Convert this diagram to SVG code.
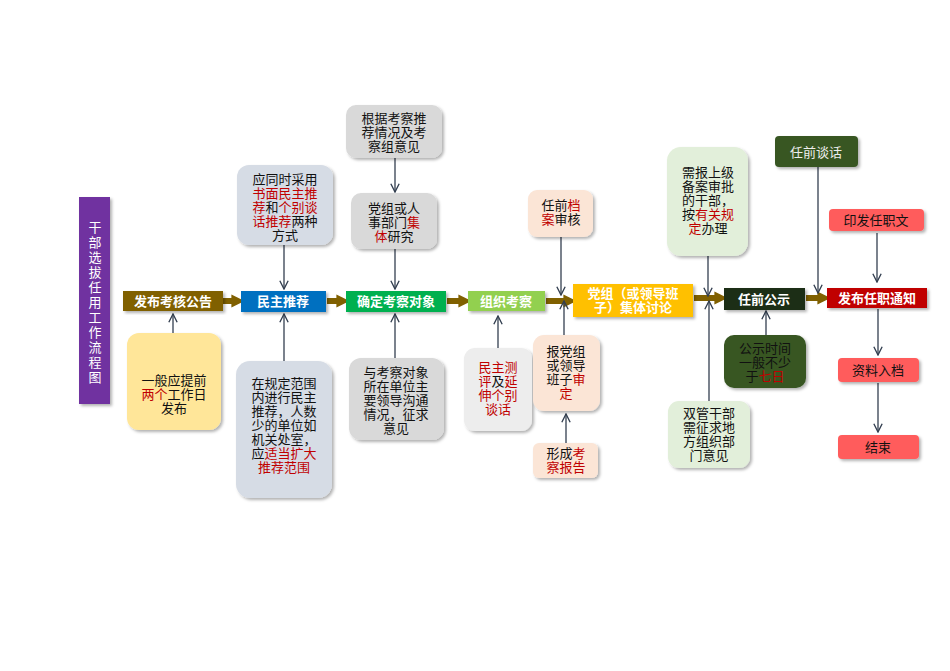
<svg xmlns="http://www.w3.org/2000/svg" width="950" height="671" viewBox="0 0 950 671">
<defs>
<filter id="sh" x="-20%" y="-20%" width="140%" height="140%"><feDropShadow dx="2" dy="2" stdDeviation="1.5" flood-color="#000" flood-opacity="0.3"/></filter>
<marker id="a" viewBox="0 0 10 10" refX="9" refY="5" markerWidth="8" markerHeight="8" orient="auto"><path d="M1,1 L9,5 L1,9" fill="none" stroke="#333F50" stroke-width="1.3"/></marker>
<marker id="b" viewBox="0 0 10 10" refX="5" refY="5" markerWidth="2.2" markerHeight="2.2" orient="auto"><path d="M0,0 L10,5 L0,10 z" fill="#806000"/></marker>
</defs>
<style>
text{font-family:"Noto Sans CJK SC","Liberation Sans",sans-serif;font-size:13px;text-anchor:middle;fill:#111}
.m{font-weight:bold;fill:#fff}
.v{fill:#fff;font-size:13px}
.r{fill:#C00000}
.c line{stroke:#333F50;stroke-width:1.3;marker-end:url(#a)}
.c .t{stroke:#806000;stroke-width:6;marker-end:url(#b)}
rect{filter:url(#sh)}
</style>
<rect width="950" height="671" fill="#fff" style="filter:none"/>
<g id="title"><rect x="79" y="197" width="31" height="207" fill="#7030A0"/>
<text class="v" x="95" y="232">干</text><text class="v" x="95" y="247">部</text><text class="v" x="95" y="262">选</text><text class="v" x="95" y="277">拔</text><text class="v" x="95" y="292">任</text><text class="v" x="95" y="307">用</text><text class="v" x="95" y="322">工</text><text class="v" x="95" y="337">作</text><text class="v" x="95" y="352">流</text><text class="v" x="95" y="367">程</text><text class="v" x="95" y="382">图</text></g>
<g class="c">
<line class="t" x1="223" y1="301" x2="238" y2="301"/>
<line class="t" x1="327" y1="301" x2="343" y2="301"/>
<line class="t" x1="447" y1="301" x2="465" y2="301"/>
<line class="t" x1="546" y1="301" x2="570" y2="301"/>
<line class="t" x1="694" y1="298" x2="721" y2="298"/>
<line class="t" x1="806" y1="298" x2="824" y2="298"/>
<line x1="173" y1="355" x2="173" y2="314"/>
<line x1="284" y1="245" x2="284" y2="289"/>
<line x1="284" y1="361" x2="284" y2="314"/>
<line x1="395" y1="158" x2="395" y2="192"/>
<line x1="395" y1="249" x2="395" y2="289"/>
<line x1="395" y1="358" x2="395" y2="314"/>
<line x1="498" y1="348" x2="498" y2="316"/>
<line x1="561" y1="237" x2="561" y2="295"/>
<line x1="564" y1="335" x2="564" y2="301"/>
<line x1="566" y1="443" x2="566" y2="414"/>
<line x1="708" y1="256" x2="708" y2="296"/>
<line x1="709" y1="401" x2="709" y2="301"/>
<line x1="766" y1="335" x2="766" y2="311"/>
<line x1="818" y1="167" x2="818" y2="293"/>
<line x1="877" y1="233" x2="877" y2="282"/>
<line x1="878" y1="309" x2="878" y2="355"/>
<line x1="878" y1="383" x2="878" y2="432"/>
</g>
<g id="n1"><rect x="123" y="291" width="100" height="20" fill="#806000"/><text class="m" x="173" y="306">发布考核公告</text></g>
<g id="n2"><rect x="241" y="291" width="85" height="21" fill="#0070C0"/><text class="m" x="283" y="306">民主推荐</text></g>
<g id="n3"><rect x="346" y="291" width="100" height="21" fill="#00B050"/><text class="m" x="396" y="306">确定考察对象</text></g>
<g id="n4"><rect x="468" y="291" width="77" height="20" fill="#92D050"/><text class="m" x="506" y="306">组织考察</text></g>
<g id="n5"><rect x="573" y="284" width="120" height="33" fill="#FFC000"/><text class="m" x="633" y="298">党组（或领导班</text><text class="m" x="633" y="312">子）集体讨论</text></g>
<g id="n6"><rect x="724" y="288" width="81" height="22" fill="#1E2E14"/><text class="m" x="764" y="304">任前公示</text></g>
<g id="n7"><rect x="827" y="288" width="100" height="20" fill="#C00000"/><text class="m" x="877" y="303">发布任职通知</text></g>
<g id="u1"><rect x="237" y="165" width="96" height="80" rx="12" fill="#D6DCE5"/><text x="285" y="184">应同时采用</text><text x="285" y="198"><tspan class="r">书面民主推</tspan></text><text x="285" y="212"><tspan class="r">荐</tspan>和<tspan class="r">个别谈</tspan></text><text x="285" y="226"><tspan class="r">话推荐</tspan>两种</text><text x="285" y="240">方式</text></g>
<g id="u2"><rect x="346" y="105" width="96" height="53" rx="10" fill="#D9D9D9"/><text x="394" y="123">根据考察推</text><text x="394" y="137">荐情况及考</text><text x="394" y="151">察组意见</text></g>
<g id="u3"><rect x="351" y="193" width="86" height="56" rx="10" fill="#D9D9D9"/><text x="394" y="213">党组或人</text><text x="394" y="227">事部门<tspan class="r">集</tspan></text><text x="394" y="241"><tspan class="r">体</tspan>研究</text></g>
<g id="u4"><rect x="528" y="190" width="65" height="47" rx="9" fill="#FBE5D6"/><text x="561" y="210">任前<tspan class="r">档</tspan></text><text x="561" y="224"><tspan class="r">案</tspan>审核</text></g>
<g id="u5"><rect x="667" y="147" width="81" height="109" rx="14" fill="#E2EFDA"/><text x="708" y="177">需报上级</text><text x="708" y="191">备案审批</text><text x="708" y="205">的干部，</text><text x="708" y="219">按<tspan class="r">有关规</tspan></text><text x="708" y="233"><tspan class="r">定</tspan>办理</text></g>
<g id="u6"><rect x="775" y="136" width="83" height="31" rx="4" fill="#375623"/><text x="816" y="157" style="fill:#eee">任前谈话</text></g>
<g id="u7"><rect x="829" y="209" width="95" height="22" rx="4" fill="#FF5B5B"/><text x="876" y="225">印发任职文</text></g>
<g id="d1"><rect x="127" y="333" width="94" height="97" rx="12" fill="#FFE699"/><text x="174" y="385">一般应提前</text><text x="174" y="399"><tspan class="r">两个</tspan>工作日</text><text x="174" y="413">发布</text></g>
<g id="d2"><rect x="236" y="361" width="96" height="137" rx="14" fill="#D6DCE5"/><text x="284" y="388">在规定范围</text><text x="284" y="402">内进行民主</text><text x="284" y="416">推荐，人数</text><text x="284" y="430">少的单位如</text><text x="284" y="444">机关处室，</text><text x="284" y="458">应<tspan class="r">适当扩大</tspan></text><text x="284" y="472"><tspan class="r">推荐范围</tspan></text></g>
<g id="d3"><rect x="349" y="358" width="95" height="82" rx="12" fill="#D9D9D9"/><text x="396" y="377">与考察对象</text><text x="396" y="391">所在单位主</text><text x="396" y="405">要领导沟通</text><text x="396" y="419">情况，征求</text><text x="396" y="433">意见</text></g>
<g id="d4"><rect x="464" y="348" width="68" height="83" rx="11" fill="#EDEDED"/><text x="498" y="372" class="r">民主测</text><text x="498" y="386"><tspan class="r">评</tspan>及<tspan class="r">延</tspan></text><text x="498" y="400" class="r">伸个别</text><text x="498" y="414" class="r">谈话</text></g>
<g id="d5"><rect x="533" y="335" width="67" height="76" rx="11" fill="#FBE5D6"/><text x="566" y="356">报党组</text><text x="566" y="370">或领导</text><text x="566" y="384">班子<tspan class="r">审</tspan></text><text x="566" y="398" class="r">定</text></g>
<g id="d6"><rect x="533" y="443" width="65" height="35" rx="6" fill="#FBE5D6"/><text x="566" y="458">形成<tspan class="r">考</tspan></text><text x="566" y="472" class="r">察报告</text></g>
<g id="d7"><rect x="668" y="401" width="82" height="67" rx="11" fill="#E2EFDA"/><text x="709" y="418">双管干部</text><text x="709" y="432">需征求地</text><text x="709" y="446">方组织部</text><text x="709" y="460">门意见</text></g>
<g id="d8"><rect x="724" y="335" width="82" height="53" rx="10" fill="#375623"/><text x="765" y="353">公示时间</text><text x="765" y="367">一般不少</text><text x="765" y="381">于<tspan class="r">七日</tspan></text></g>
<g id="e1"><rect x="838" y="358" width="81" height="24" rx="4" fill="#FF5B5B"/><text x="878" y="375">资料入档</text></g>
<g id="e2"><rect x="838" y="435" width="81" height="24" rx="4" fill="#FF5B5B"/><text x="878" y="452">结束</text></g>
</svg>
